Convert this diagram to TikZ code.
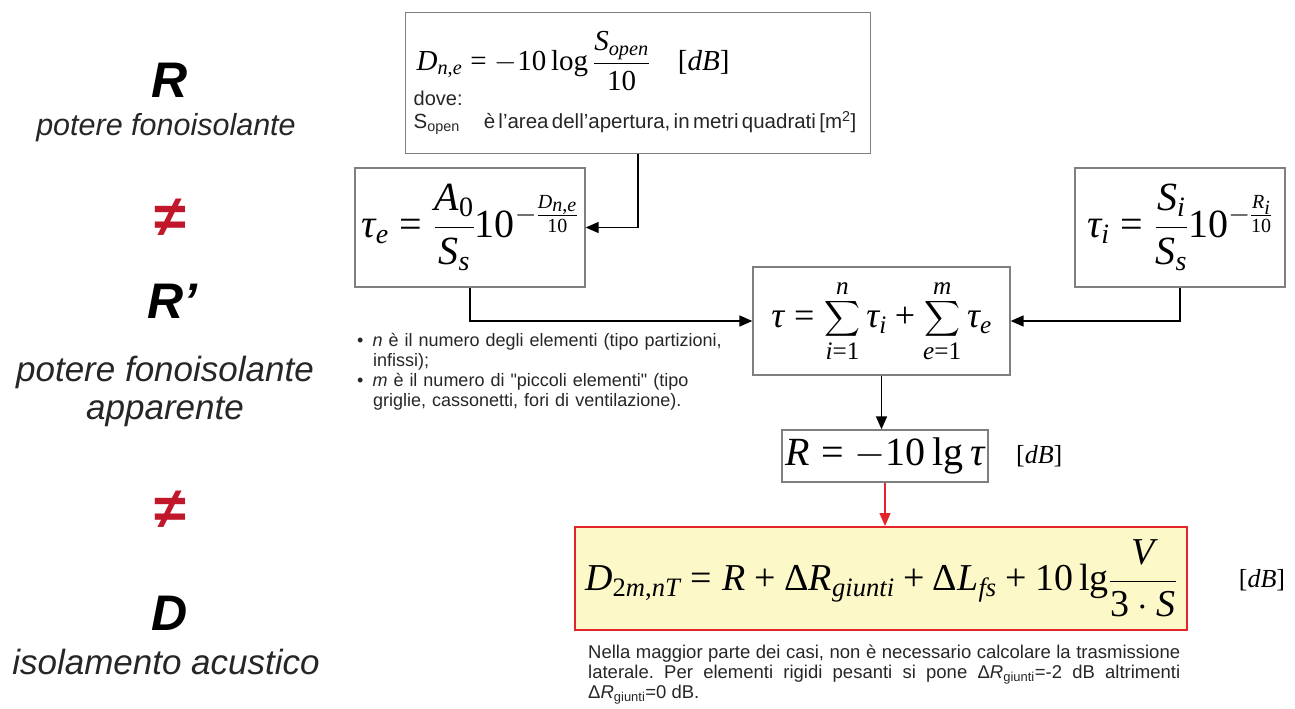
\RequirePackage{fix-cm}
\documentclass[tikz,border=0pt]{standalone}
\usepackage{amsmath}
\usepackage[no-math]{fontspec}
\setmainfont{Liberation Serif}
\setsansfont{Liberation Sans}
\newfontfamily\mathser{Liberation Serif}[NFSSFamily=libserif]
\DeclareSymbolFont{letters}{TU}{libserif}{m}{it}
\DeclareSymbolFont{operators}{TU}{libserif}{m}{n}
\Umathchardef\tau="7 \symletters "03C4
\Umathchardef\Delta="0 \symoperators "0394
\mathcode`,="602C
\usetikzlibrary{arrows.meta, positioning, calc}
\definecolor{boxgray}{HTML}{7F7F7F}
\definecolor{noteyellow}{HTML}{FDF8C8}
\definecolor{alertred}{HTML}{E3242B}
\definecolor{neqred}{HTML}{C0182A}
\definecolor{textdark}{HTML}{262626}
\newcommand{\nohyph}{\hyphenpenalty=10000\exhyphenpenalty=10000\lefthyphenmin=64\righthyphenmin=64\frenchspacing\relax}

\tikzset{
  formbox/.style={draw=boxgray, line width=1.3pt, fill=white, inner sep=0pt},
  link/.style={line width=1.6pt, -{Triangle[length=13pt, width=11pt]}},
  redlink/.style={link, draw=alertred, color=alertred},
  bigsym/.style={font=\fontsize{50}{50}\selectfont\sffamily\bfseries\itshape},
  caption/.style={font=\fontsize{35}{38}\selectfont\sffamily\itshape, text=textdark, align=center},
  neqsym/.style={font=\fontsize{58}{58}\selectfont\sffamily\bfseries, text=neqred},
  smalltext/.style={font=\fontsize{18}{20}\selectfont\sffamily, text=textdark},
  dblabel/.style={font=\fontsize{26}{30}\selectfont},
}

\begin{document}
\begin{tikzpicture}[x=1pt, y=-1pt]
  \useasboundingbox (0,0) rectangle (1295,709);

  % left column
  \node[bigsym] (rsym) at (170,80) {R};
  \node[caption, font=\fontsize{30.5}{36}\selectfont\sffamily\itshape] (rcap) at (166,128) {potere fonoisolante};
  \node[neqsym] (neq1) at (170,218) {≠};
  \node[bigsym] (rpsym) at (172,301) {R'};
  \node[caption] (rpcap) at (165,391) {potere fonoisolante\\apparente};
  \node[neqsym] (neq2) at (170,510) {≠};
  \node[bigsym] (dsym) at (170,613) {D};
  \node[caption] (dcap) at (166,662) {isolamento acustico};

  % formula boxes
  \node[formbox, anchor=north west, text width=449pt, inner xsep=8pt,
        minimum height=141pt, align=left] (dne) at (405,12) {
    {\fontsize{29}{36}\selectfont\hspace{3pt}$D_{n,e} = -10\log\dfrac{S_{open}}{10}$\hspace{28pt}$[dB]$}\\[-1pt]
    {\sffamily\fontsize{20}{26}\selectfont\color{textdark}dove:}\\[5pt]
    {\sffamily\fontsize{20.5}{26}\selectfont\color{textdark}S\textsubscript{open}\hspace{24pt}è l'area dell'apertura, in metri quadrati [m\textsuperscript{2}]}
  };
  \node[formbox, minimum width=230pt, minimum height=119pt] (taue) at (470,227.5) {
    \fontsize{40}{46}\selectfont $\tau_e = \dfrac{A_0}{S_s}10^{-\frac{D_{n,e}}{10}}$
  };
  \node[formbox, minimum width=210pt, minimum height=119pt] (taui) at (1180,227.5) {
    \fontsize{40}{46}\selectfont $\tau_i = \dfrac{S_i}{S_s}10^{-\frac{R_i}{10}}$
  };
  \node[formbox, minimum width=257pt, minimum height=108pt] (tausum) at (881.5,321) {
    \fontsize{36}{42}\selectfont $\displaystyle\tau = \sum_{i=1}^{n}\tau_i + \sum_{e=1}^{m}\tau_e$
  };
  \node[formbox, minimum width=206pt, minimum height=52pt] (rform) at (885,456) {
    \fontsize{40}{46}\selectfont $R = -10\,\mathrm{lg}\,\tau$
  };
  \node[dblabel, right=24pt of rform] (rdb) {$[dB]$};
  \node[formbox, draw=alertred, line width=2pt, fill=noteyellow,
        minimum width=612pt, minimum height=103pt] (dform) at (881,578.5) {
    \fontsize{38}{44}\selectfont $D_{2m,nT} = R + \Delta R_{giunti} + \Delta L_{fs} + 10\,\mathrm{lg}\dfrac{V}{3\cdot S}$
  };
  \node[dblabel] (ddb) at (1262,580) {$[dB]$};

  % notes
  \node[smalltext, anchor=north west, text width=400pt, align=left, inner sep=0pt] (bullets) at (357,333) {
    \textbullet\hspace{9pt}\textit{n} è il numero degli elementi (tipo partizioni,\\
    \hspace*{16pt}infissi);\\
    \textbullet\hspace{9pt}\textit{m} è il numero di \textquotedbl piccoli elementi\textquotedbl{} (tipo\\
    \hspace*{16pt}griglie, cassonetti, fori di ventilazione).
  };
  \node[smalltext, font=\fontsize{18.5}{20}\selectfont\sffamily,
        anchor=north west, text width=592pt, align=justify, inner sep=0pt] (nota) at (588,645) {\nohyph
    Nella maggior parte dei casi, non è necessario calcolare la \mbox{trasmissione} \mbox{laterale.}
    Per elementi rigidi pesanti si pone Δ\textit{R}\textsubscript{giunti}=-2 dB \mbox{altrimenti}
    Δ\textit{R}\textsubscript{giunti}=0 dB.
  };

  % connectors
  \draw[link] (dne.south) |- (taue.east);
  \draw[link] (taue.south) |- (tausum.west);
  \draw[link] (taui.south) |- (tausum.east);
  \draw[link] (tausum.south) -- (tausum.south |- rform.north);
  \draw[redlink] (rform.south) -- (rform.south |- dform.north);
\end{tikzpicture}
\end{document}
